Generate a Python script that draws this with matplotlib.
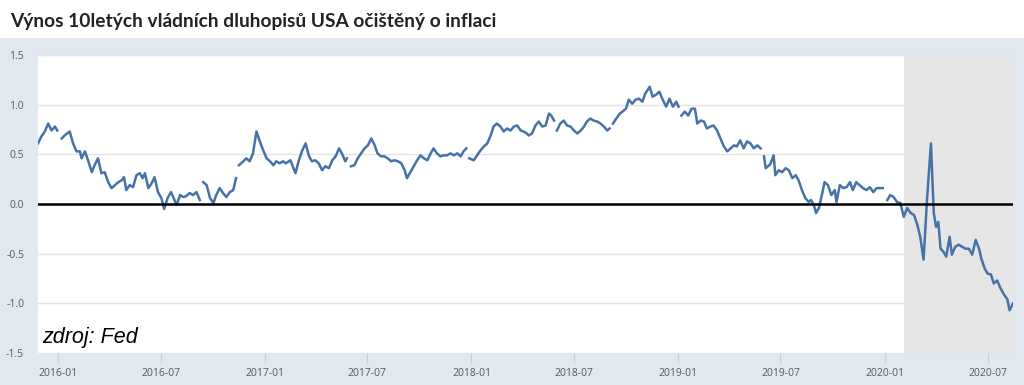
#!/usr/bin/env python3
"""
US 10-year real (TIPS) yield, FRED-style weekly chart with Czech title.
"""

import numpy as np
import pandas as pd
import matplotlib
matplotlib.use("Agg")
import matplotlib.pyplot as plt
import matplotlib.dates as mdates
from matplotlib.patches import Rectangle

TITLE = "Výnos 10letých vládních dluhopisů USA očištěný o inflaci"
SOURCE = "zdroj: Fed"

# None = missing observation (gap in the line)
dates = [
    "2015-11-27", "2015-12-03", "2015-12-09", "2015-12-15", "2015-12-21", "2015-12-27", "2015-12-31",
    "2016-01-03", "2016-01-08", "2016-01-13", "2016-01-22", "2016-01-28", "2016-02-03", "2016-02-09", "2016-02-12", "2016-02-18", "2016-02-24",
    "2016-03-01", "2016-03-06", "2016-03-12", "2016-03-18", "2016-03-24", "2016-03-30", "2016-04-05", "2016-04-11", "2016-04-17", "2016-04-23", "2016-04-27",
    "2016-05-01", "2016-05-07", "2016-05-13", "2016-05-19", "2016-05-25", "2016-05-30", "2016-06-03", "2016-06-09", "2016-06-15", "2016-06-20", "2016-06-26",
    "2016-07-02", "2016-07-07", "2016-07-13", "2016-07-19", "2016-07-23", "2016-07-29", "2016-08-04", "2016-08-10", "2016-08-15", "2016-08-21", "2016-08-27",
    "2016-09-02", "2016-09-08", "2016-09-11", "2016-09-14", "2016-09-20", "2016-09-26", "2016-10-02", "2016-10-07", "2016-10-13", "2016-10-19", "2016-10-25", "2016-10-31",
    "2016-11-06", "2016-11-11", "2016-11-13", "2016-11-16", "2016-11-24", "2016-11-29", "2016-12-05", "2016-12-11", "2016-12-17", "2016-12-23", "2016-12-29",
    "2017-01-04", "2017-01-10", "2017-01-16", "2017-01-21", "2017-01-27", "2017-02-02", "2017-02-07", "2017-02-15", "2017-02-24",
    "2017-03-02", "2017-03-08", "2017-03-14", "2017-03-20", "2017-03-25", "2017-03-31", "2017-04-06", "2017-04-12", "2017-04-18", "2017-04-24", "2017-04-30",
    "2017-05-06", "2017-05-12", "2017-05-17", "2017-05-23", "2017-05-26", "2017-05-28", "2017-06-02", "2017-06-08", "2017-06-14", "2017-06-20", "2017-06-26",
    "2017-07-02", "2017-07-08", "2017-07-14", "2017-07-19", "2017-07-25", "2017-07-31", "2017-08-06", "2017-08-12", "2017-08-18", "2017-08-24", "2017-08-30",
    "2017-09-05", "2017-09-09", "2017-09-15", "2017-09-21", "2017-09-27", "2017-10-03", "2017-10-09", "2017-10-15", "2017-10-21", "2017-10-26",
    "2017-11-01", "2017-11-07", "2017-11-13", "2017-11-19", "2017-11-25", "2017-12-01", "2017-12-07", "2017-12-13", "2017-12-18", "2017-12-23", "2017-12-25", "2017-12-28",
    "2018-01-05", "2018-01-11", "2018-01-17", "2018-01-23", "2018-01-29", "2018-02-04", "2018-02-09", "2018-02-15", "2018-02-21", "2018-02-27",
    "2018-03-05", "2018-03-11", "2018-03-17", "2018-03-23", "2018-03-29", "2018-04-03", "2018-04-09", "2018-04-12", "2018-04-18", "2018-04-24", "2018-04-30",
    "2018-05-06", "2018-05-12", "2018-05-18", "2018-05-22", "2018-05-27", "2018-05-29", "2018-06-01", "2018-06-07", "2018-06-13", "2018-06-19", "2018-06-25",
    "2018-07-01", "2018-07-07", "2018-07-13", "2018-07-19", "2018-07-24", "2018-07-30", "2018-08-05", "2018-08-11", "2018-08-17", "2018-08-23", "2018-08-29",
    "2018-09-02", "2018-09-04", "2018-09-08", "2018-09-14", "2018-09-20", "2018-09-25", "2018-10-01", "2018-10-06", "2018-10-12", "2018-10-18", "2018-10-24", "2018-10-30",
    "2018-11-04", "2018-11-12", "2018-11-17", "2018-11-23", "2018-11-29", "2018-12-05", "2018-12-11", "2018-12-17", "2018-12-23", "2018-12-29",
    "2019-01-02", "2019-01-04", "2019-01-07", "2019-01-13", "2019-01-19", "2019-01-25", "2019-01-31", "2019-02-04", "2019-02-10", "2019-02-16", "2019-02-21", "2019-02-27",
    "2019-03-05", "2019-03-11", "2019-03-17", "2019-03-23", "2019-03-29", "2019-04-04", "2019-04-10", "2019-04-15", "2019-04-21", "2019-04-27",
    "2019-05-03", "2019-05-09", "2019-05-15", "2019-05-21", "2019-05-27", "2019-05-29", "2019-06-02", "2019-06-05", "2019-06-13", "2019-06-19", "2019-06-22", "2019-06-28",
    "2019-07-04", "2019-07-10", "2019-07-16", "2019-07-22", "2019-07-28", "2019-08-02", "2019-08-08", "2019-08-14", "2019-08-20", "2019-08-24", "2019-08-29",
    "2019-09-02", "2019-09-07", "2019-09-13", "2019-09-17", "2019-09-23", "2019-09-29", "2019-10-05", "2019-10-08", "2019-10-14", "2019-10-20", "2019-10-26",
    "2019-11-01", "2019-11-06", "2019-11-12", "2019-11-18", "2019-11-24", "2019-11-30", "2019-12-06", "2019-12-12", "2019-12-18", "2019-12-24", "2019-12-29", "2019-12-31",
    "2020-01-06", "2020-01-11", "2020-01-17", "2020-01-23", "2020-01-29", "2020-02-04", "2020-02-10", "2020-02-16", "2020-02-22", "2020-02-28",
    "2020-03-04", "2020-03-10", "2020-03-16", "2020-03-23", "2020-03-28", "2020-04-01", "2020-04-05", "2020-04-09", "2020-04-14", "2020-04-19", "2020-04-25", "2020-04-29",
    "2020-05-05", "2020-05-11", "2020-05-17", "2020-05-23", "2020-05-29", "2020-06-04", "2020-06-10", "2020-06-16", "2020-06-20", "2020-06-26",
    "2020-07-01", "2020-07-07", "2020-07-12", "2020-07-18", "2020-07-24", "2020-07-30", "2020-08-05", "2020-08-09", "2020-08-15",
]

values = [
    0.61, 0.68, 0.73, 0.81, 0.74, 0.78, 0.74,
    None, 0.66, 0.69, 0.73, 0.61, 0.53, 0.53, 0.46, 0.53, 0.43,
    0.32, 0.39, 0.46, 0.31, 0.32, 0.22, 0.16, 0.19, 0.22, 0.24, 0.27,
    0.14, 0.19, 0.17, 0.29, 0.31, 0.26, 0.31, 0.16, 0.21, 0.27, 0.12,
    0.06, -0.05, 0.06, 0.12, 0.07, -0.01, 0.09, 0.07, 0.08, 0.11, 0.09,
    0.12, 0.04, None, 0.22, 0.19, 0.06, 0.01, 0.09, 0.16, 0.11, 0.07, 0.12,
    0.14, 0.26, None, 0.39, 0.43, 0.46, 0.43, 0.51, 0.73, 0.63, 0.54,
    0.46, 0.43, 0.39, 0.43, 0.41, 0.43, 0.41, 0.44, 0.31,
    0.44, 0.54, 0.61, 0.48, 0.43, 0.44, 0.41, 0.34, 0.38, 0.36, 0.44,
    0.48, 0.56, 0.51, 0.43, 0.46, None, 0.38, 0.39, 0.46, 0.51, 0.56,
    0.59, 0.66, 0.59, 0.51, 0.48, 0.48, 0.46, 0.43, 0.44, 0.43, 0.41,
    0.34, 0.26, 0.32, 0.38, 0.44, 0.49, 0.46, 0.44, 0.51, 0.56,
    0.51, 0.48, 0.49, 0.49, 0.51, 0.49, 0.51, 0.48, 0.53, 0.56, None, 0.46,
    0.44, 0.49, 0.54, 0.58, 0.61, 0.69, 0.78, 0.81, 0.78, 0.73,
    0.76, 0.74, 0.78, 0.79, 0.74, 0.73, 0.71, 0.69, 0.71, 0.79, 0.83,
    0.78, 0.79, 0.91, 0.89, 0.84, None, 0.74, 0.81, 0.84, 0.79, 0.78,
    0.74, 0.71, 0.74, 0.78, 0.83, 0.86, 0.84, 0.83, 0.81, 0.78, 0.74,
    0.76, None, 0.81, 0.86, 0.91, 0.93, 0.96, 1.05, 1.01, 1.05, 1.06, 1.03,
    1.11, 1.18, 1.08, 1.10, 1.13, 1.05, 0.98, 1.06, 0.98, 1.03,
    0.98, None, 0.89, 0.93, 0.89, 0.96, 0.96, 0.81, 0.84, 0.83, 0.76, 0.78,
    0.79, 0.74, 0.66, 0.58, 0.53, 0.56, 0.59, 0.58, 0.64, 0.56,
    0.63, 0.61, 0.56, 0.59, 0.56, None, 0.48, 0.36, 0.40, 0.49, 0.29, 0.34,
    0.32, 0.36, 0.34, 0.26, 0.29, 0.24, 0.14, 0.06, 0.02, 0.04, -0.01,
    -0.09, -0.04, 0.11, 0.22, 0.19, 0.09, 0.14, 0.02, 0.19, 0.16, 0.17,
    0.22, 0.14, 0.22, 0.19, 0.16, 0.14, 0.17, 0.12, 0.16, 0.16, 0.16, None,
    0.04, 0.09, 0.07, 0.02, 0.01, -0.13, -0.04, -0.09, -0.11, -0.21,
    -0.33, -0.56, 0.04, 0.61, -0.09, -0.23, -0.18, -0.45, -0.48, -0.53, -0.33, -0.51,
    -0.43, -0.41, -0.43, -0.45, -0.45, -0.51, -0.36, -0.45, -0.55, -0.65,
    -0.70, -0.71, -0.80, -0.77, -0.85, -0.91, -0.96, -1.07, -1.00,
]

recession_start = "2020-02-04"
x_range = ["2015-11-27", "2020-08-15"]
y_ticks = [-1.5, -1.0, -0.5, 0.0, 0.5, 1.0, 1.5]
x_ticks = ["2016-01-01", "2016-07-01", "2017-01-01", "2017-07-01", "2018-01-01",
           "2018-07-01", "2019-01-01", "2019-07-01", "2020-01-01", "2020-07-01"]

W, H = 1024, 385
PANEL = "#e1e8f0"
LINE = "#4572a7"
TICK_TXT = "#595959"


def main():
    x = pd.to_datetime(dates)
    y = np.array([np.nan if v is None else v for v in values], dtype=float)

    fig = plt.figure(figsize=(W / 100, H / 100), dpi=100)
    fig.patch.set_facecolor("white")
    # light blue chart panel below the title (behind the axes)
    fig.patches.append(Rectangle((0, 0), 1, 1 - 38 / H, transform=fig.transFigure,
                                 facecolor=PANEL, edgecolor="none", zorder=-10))

    ax = fig.add_axes([38 / W, 32 / H, 975 / W, 298 / H])
    ax.set_facecolor("white")
    for s in ax.spines.values():
        s.set_visible(False)

    ax.axvspan(pd.Timestamp(recession_start), pd.Timestamp(x_range[1]),
               color="#e6e6e6", lw=0, zorder=0)
    ax.plot(x, y, color=LINE, lw=1.8, zorder=3)
    ax.axhline(0, color="black", lw=1.8, zorder=4)

    ax.set_xlim(pd.Timestamp(x_range[0]), pd.Timestamp(x_range[1]))
    ax.set_ylim(y_ticks[0], y_ticks[-1])
    ax.set_yticks(y_ticks)
    ax.set_yticklabels([f"{t:.1f}" for t in y_ticks])
    ax.set_xticks(pd.to_datetime(x_ticks))
    ax.xaxis.set_major_formatter(mdates.DateFormatter("%Y-%m"))

    ax.grid(axis="y", color="#e4e4e4", lw=1.0, zorder=1)
    ax.set_axisbelow(True)
    ax.tick_params(axis="y", length=0, pad=10, labelsize=7.5, labelcolor=TICK_TXT)
    ax.tick_params(axis="x", length=7.5, width=0.8, color="#c6ced8", pad=3,
                   labelsize=7.5, labelcolor=TICK_TXT)
    for lab in ax.get_xticklabels() + ax.get_yticklabels():
        lab.set_fontfamily("Open Sans")

    ax.text(0.004, 0.034, SOURCE, transform=ax.transAxes, fontsize=15.5,
            fontstyle="italic", family="Liberation Sans", color="black",
            va="baseline", ha="left", zorder=5)

    title = fig.text(10 / W, 1 - 27 / H, TITLE, fontsize=17, fontweight="bold",
                     family="Lato", color="#222222", va="baseline", ha="left")
    fig.canvas.draw()
    w = title.get_window_extent().width
    title.set_fontsize(17 * 487 / w)

    fig.savefig("out.png", dpi=100, facecolor=fig.get_facecolor())


if __name__ == "__main__":
    main()
